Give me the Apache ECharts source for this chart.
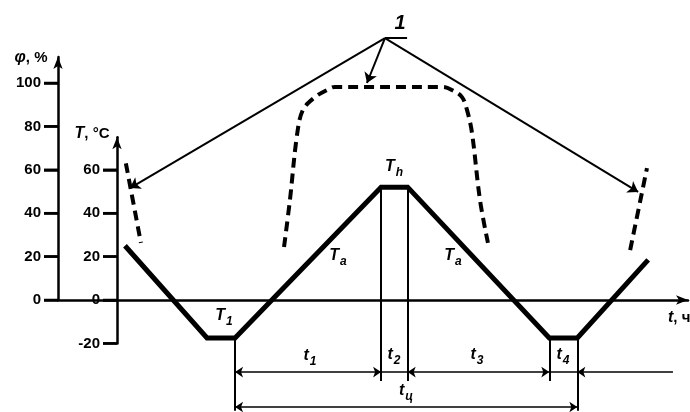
<!DOCTYPE html>
<html>
<head>
<meta charset="utf-8">
<script src="https://cdn.jsdelivr.net/npm/echarts@6/dist/echarts.min.js"></script>
<style>
html, body { margin: 0; padding: 0; background: #fff; }
#chart { width: 690px; height: 412px; }
</style>
</head>
<body>
<div id="chart"></div>
<script>
var timeMin = -20, timeMax = 193.5;
var phiTicks = [0, 20, 40, 60, 80, 100];
var tempTicks = [-20, 0, 20, 40, 60];

// температура T, °C
var tempTime = [2.7, 30.5, 40, 89.5, 98.5, 146.5, 156, 180];
var tempValue = [25, -17.5, -17.5, 52, 52, -17.5, -17.5, 18.5];

// влажность φ, % (null - разрыв)
var humTime = [3.0, 8.1, null, 56.6, 58.6, 61.0, 63.0, 67.1, 71.2, 73.9, 110.5, 113.5, 116.9, 118.6, 120.3, 123.0, 125.7, null, 173.9, 179.6];
var humValue = [63, 26.3, null, 24.4, 46.1, 76.0, 87.6, 93.5, 96.8, 98.2, 98.2, 96.8, 93.5, 87.6, 77.0, 46.1, 26.3, null, 23.0, 60.8];

// границы этапов цикла
var stepTime = [40, 89.5, 98.5, 146.5, 156];
var stepTop = [-17.5, 52, 52, -17.5, -17.5];
var stepBottom = [-51, -37.3, -37.3, -37.3, -51];
var dimLevel1 = -33.2, dimLevel2 = -49.3, dimEnd = 188.4;

// выноска "1"
var leaderFrom = [90.8, 120.7];
var leaderTo = [[4.4, 51.6], [84.7, 100], [176.6, 49.8]];
var leaderBar = [98.3, 120.7];

var font = '"Liberation Sans", Arial, sans-serif';

function splitSegments(xs, ys) {
	var segs = [], cur = [];
	for (var i = 0; i < xs.length; i++) {
		if (xs[i] === null) {
			if (cur.length) segs.push(cur);
			cur = [];
		} else {
			cur.push([xs[i], ys[i]]);
		}
	}
	if (cur.length) segs.push(cur);
	return segs;
}

function zip(xs, ys) {
	var out = [];
	for (var i = 0; i < xs.length; i++) out.push([xs[i], ys[i]]);
	return out;
}

var richStyle = {
	v: { fontFamily: font, fontStyle: 'italic', fontWeight: 'bold', fontSize: 16, color: '#000', verticalAlign: 'bottom', padding: [0, 1, 4, 0] },
	s: { fontFamily: font, fontStyle: 'italic', fontWeight: 'bold', fontSize: 12, color: '#000', verticalAlign: 'bottom' },
	a: { fontFamily: font, fontStyle: 'italic', fontWeight: 'bold', fontSize: 16, color: '#000', verticalAlign: 'bottom' },
	b: { fontFamily: font, fontStyle: 'italic', fontWeight: 'bold', fontSize: 20, color: '#000' },
	n: { fontFamily: font, fontWeight: 'bold', fontSize: 15, color: '#000', verticalAlign: 'bottom', padding: [0, 0, 1, 0] }
};

function textEl(x, y, text, align) {
	return {
		type: 'text', x: x, y: y, z: 10,
		style: {
			text: text, rich: richStyle,
			align: align || 'center', verticalAlign: 'middle',
			textAlign: align || 'center', textVerticalAlign: 'middle',
			fill: '#000'
		}
	};
}

function axisLineStyle() {
	return { color: '#000', width: 2.5 };
}

function tickStyle() {
	return { show: true, inside: false, length: 14, lineStyle: { color: '#000', width: 2.5 } };
}

var series = [];

splitSegments(humTime, humValue).forEach(function (seg) {
	series.push({
		type: 'line', xAxisIndex: 0, yAxisIndex: 0,
		data: seg, smooth: 0.35, showSymbol: false, symbol: 'none',
		lineStyle: { color: '#000', width: 4, type: [10, 6] },
		z: 3
	});
});

series.push({
	type: 'line', xAxisIndex: 1, yAxisIndex: 1,
	data: zip(tempTime, tempValue), showSymbol: false, symbol: 'none',
	lineStyle: { color: '#000', width: 5, join: 'miter' },
	z: 4
});

// вертикальные линии этапов
var stepLines = [];
for (var i = 0; i < stepTime.length; i++) {
	stepLines.push({ coords: [[stepTime[i], stepTop[i]], [stepTime[i], stepBottom[i]]] });
}
series.push({
	type: 'lines', coordinateSystem: 'cartesian2d', xAxisIndex: 1, yAxisIndex: 1,
	clip: false, symbol: 'none',
	lineStyle: { color: '#000', width: 2, opacity: 1, curveness: 0 },
	data: stepLines, z: 3
});

// размерные линии
series.push({
	type: 'lines', coordinateSystem: 'cartesian2d', xAxisIndex: 1, yAxisIndex: 1,
	clip: false, symbol: ['arrow', 'arrow'], symbolSize: 8,
	lineStyle: { color: '#000', width: 1.5, opacity: 1, curveness: 0 },
	data: [
		{ coords: [[stepTime[0], dimLevel1], [stepTime[1], dimLevel1]] },
		{ coords: [[stepTime[2], dimLevel1], [stepTime[3], dimLevel1]] },
		{ coords: [[stepTime[0], dimLevel2], [stepTime[4], dimLevel2]] }
	], z: 3
});
series.push({
	type: 'lines', coordinateSystem: 'cartesian2d', xAxisIndex: 1, yAxisIndex: 1,
	clip: false, symbol: 'none',
	lineStyle: { color: '#000', width: 1.5, opacity: 1, curveness: 0 },
	data: [
		{ coords: [[stepTime[1], dimLevel1], [stepTime[2], dimLevel1]] },
		{ coords: [[stepTime[3], dimLevel1], [stepTime[4], dimLevel1]] }
	], z: 3
});
series.push({
	type: 'lines', coordinateSystem: 'cartesian2d', xAxisIndex: 1, yAxisIndex: 1,
	clip: false, symbol: ['none', 'arrow'], symbolSize: 8,
	lineStyle: { color: '#000', width: 1.5, opacity: 1, curveness: 0 },
	data: [{ coords: [[dimEnd, dimLevel1], [stepTime[4], dimLevel1]] }], z: 3
});

// выноска
series.push({
	type: 'lines', coordinateSystem: 'cartesian2d', xAxisIndex: 0, yAxisIndex: 0,
	clip: false, symbol: ['none', 'arrow'], symbolSize: 10,
	lineStyle: { color: '#000', width: 2, opacity: 1, curveness: 0 },
	data: leaderTo.map(function (p) { return { coords: [leaderFrom, p] }; }), z: 3
});
series.push({
	type: 'lines', coordinateSystem: 'cartesian2d', xAxisIndex: 0, yAxisIndex: 0,
	clip: false, symbol: 'none',
	lineStyle: { color: '#000', width: 2, opacity: 1, curveness: 0 },
	data: [{ coords: [leaderFrom, leaderBar] }], z: 3
});

var texts = [
	textEl(31, 58, '{a|φ}{n|, %}'),
	textEl(92, 134, '{a|T}{n|, °C}'),
	textEl(668, 318, '{a|t}{n|, ч}', 'left'),
	textEl(400, 23, '{b|1}'),
	textEl(224, 318, '{v|T}{s|1}'),
	textEl(394, 169, '{v|T}{s|h}'),
	textEl(338, 258, '{v|T}{s|a}'),
	textEl(453, 258, '{v|T}{s|a}'),
	textEl(310, 358, '{v|t}{s|1}'),
	textEl(394, 357, '{v|t}{s|2}'),
	textEl(477, 357, '{v|t}{s|3}'),
	textEl(563, 357, '{v|t}{s|4}'),
	textEl(406, 393, '{v|t}{s|ц}')
];

var chart = echarts.init(document.getElementById('chart'));
chart.setOption({
	animation: false,
	backgroundColor: '#fff',
	grid: [
		{ left: 58, right: 2, top: 56.96, height: 243.04 },
		{ left: 117, right: 2, top: 137.25, height: 206.15 }
	],
	xAxis: [
		{
			gridIndex: 0, type: 'value', min: timeMin, max: timeMax,
			axisLine: { show: true, symbol: ['none', 'arrow'], symbolSize: [7, 12], lineStyle: axisLineStyle() },
			axisTick: { show: false }, axisLabel: { show: false }, splitLine: { show: false }
		},
		{
			gridIndex: 1, type: 'value', min: 0, max: timeMax, show: false,
			splitLine: { show: false }
		}
	],
	yAxis: [
		{
			gridIndex: 0, type: 'value', min: 0, max: 112,
			axisLine: { show: true, onZero: false, symbol: ['none', 'arrow'], symbolSize: [7, 12], lineStyle: axisLineStyle() },
			axisTick: Object.assign(tickStyle(), { customValues: phiTicks }),
			axisLabel: { customValues: phiTicks, margin: 17, color: '#000', fontFamily: font, fontWeight: 'bold', fontSize: 15 },
			splitLine: { show: false }
		},
		{
			gridIndex: 1, type: 'value', min: -20, max: 75,
			axisLine: { show: true, onZero: false, symbol: ['none', 'arrow'], symbolSize: [7, 12], lineStyle: axisLineStyle() },
			axisTick: Object.assign(tickStyle(), { customValues: tempTicks }),
			axisLabel: { customValues: tempTicks, margin: 17, color: '#000', fontFamily: font, fontWeight: 'bold', fontSize: 15 },
			splitLine: { show: false }
		}
	],
	graphic: texts,
	series: series
});

// штрихи шкал по шкалам осей (дублируют axisTick)
function tickEls(values, finder, at) {
	return values.map(function (v) {
		var p = chart.convertToPixel(finder, [at, v]);
		return {
			type: 'line', z: 20, silent: true,
			shape: { x1: p[0] - 14, y1: p[1], x2: p[0], y2: p[1] },
			style: { stroke: '#000', lineWidth: 2.5 }
		};
	});
}
var ticks = tickEls(phiTicks, { gridIndex: 0 }, timeMin)
	.concat(tickEls(tempTicks, { gridIndex: 1 }, 0));
chart.setOption({ graphic: texts.concat(ticks) });
</script>
</body>
</html>
